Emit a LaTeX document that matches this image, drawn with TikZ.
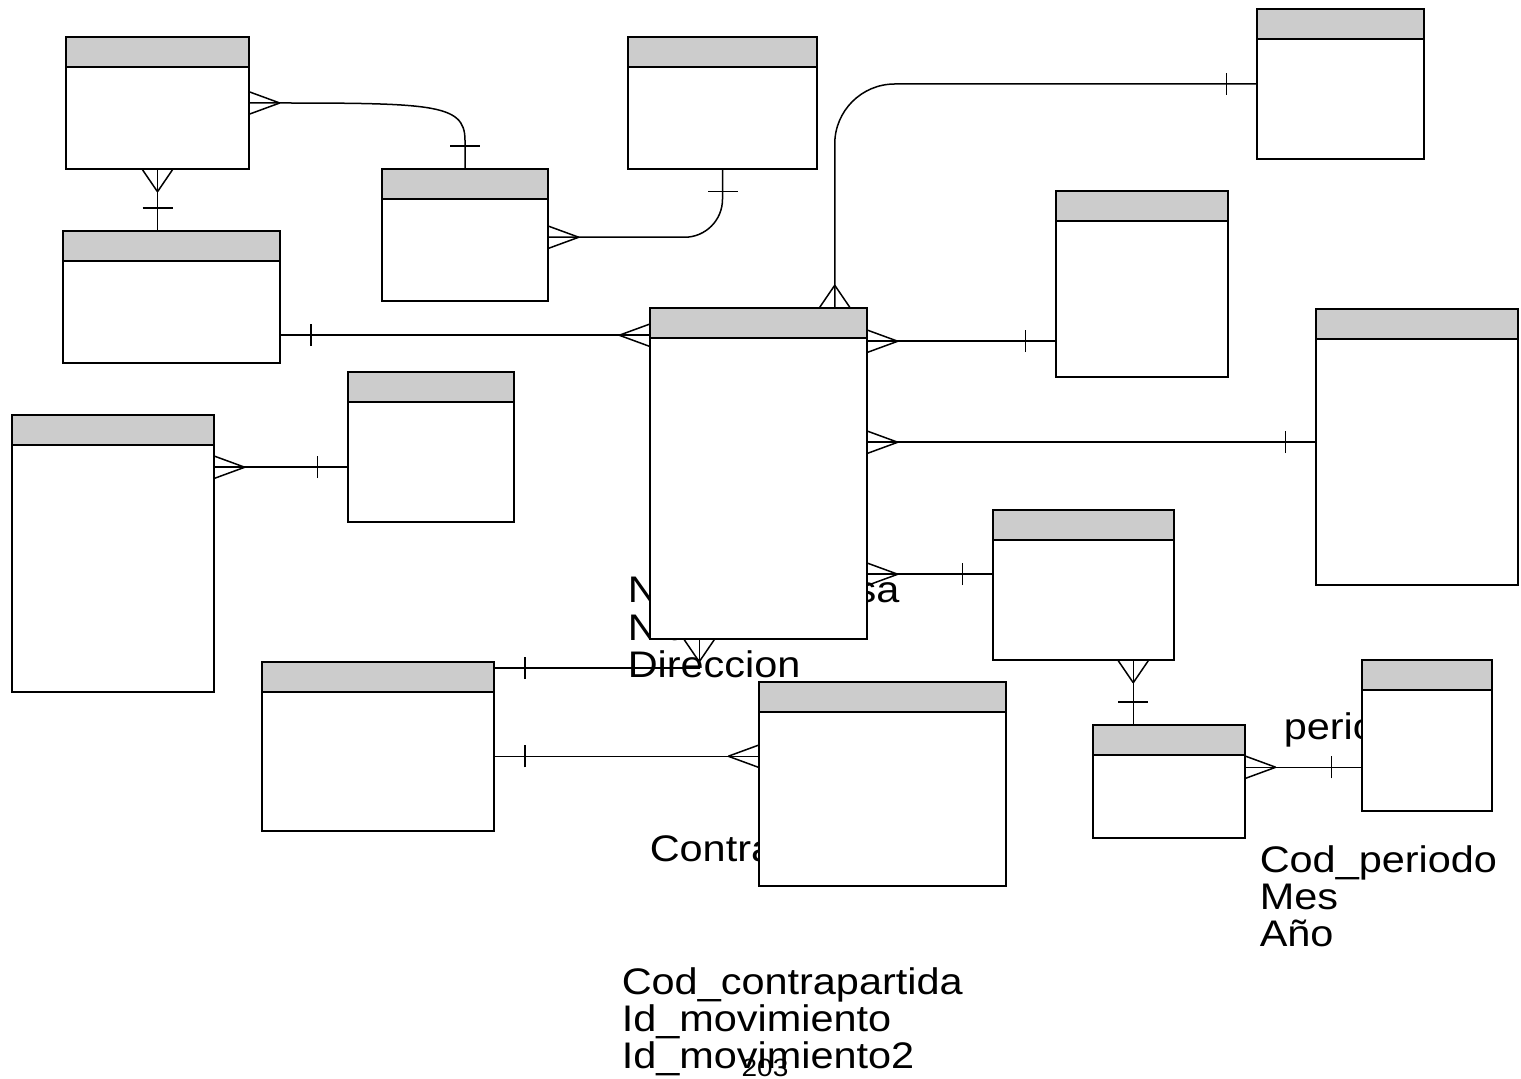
\documentclass[tikz,border=0pt]{standalone}
\usepackage{fontspec}
\setmainfont{Liberation Sans}[FakeStretch=1.12]
\usepackage{tikz}
\usetikzlibrary{calc, decorations.markings}
\definecolor{hdrGray}{HTML}{CCCCCC}

% tabla sin nombre: #1 nombre, #2-#5 esquinas en px
\newcommand{\tabla}[5]{%
  \node[tabla, minimum width={(#4-#2)*0.5pt}, minimum height={(#5-#3)*0.5pt}]
    (#1) at ({(#2+#4)/2},{(#3+#5)/2}) {};}

\begin{document}
\begin{tikzpicture}[x=0.5pt, y=-0.5pt, line width=0.75pt,
  tabla/.style={draw, fill=white, inner sep=0pt,
    path picture={
      \fill[hdrGray] (path picture bounding box.north west) rectangle
        ($(path picture bounding box.north east)+(0,30)$);
      \draw ($(path picture bounding box.north west)+(0,30)$) --
        ($(path picture bounding box.north east)+(0,30)$);}},
  attr/.style={font=\fontsize{18.5}{18.5}\selectfont, align=left,
    anchor=base west, inner sep=0pt},
  pataIni/.style 2 args={postaction={decorate, decoration={markings,
    mark=at position 0 with {\draw (#1,0pt) -- (0pt,#2) (#1,0pt) -- (0pt,-#2);}}}},
  pataFin/.style 2 args={postaction={decorate, decoration={markings,
    mark=at position 1 with {\draw (-#1,0pt) -- (0pt,#2) (-#1,0pt) -- (0pt,-#2);}}}},
  barraIni/.style 2 args={postaction={decorate, decoration={markings,
    mark=at position 0 with {\draw (#1,-#2) -- (#1,#2);}}}},
  barraFin/.style 2 args={postaction={decorate, decoration={markings,
    mark=at position 1 with {\draw (-#1,-#2) -- (-#1,#2);}}}},
]
  \useasboundingbox[fill=white] (0,0) rectangle (1521,1079);

  % Atributos sueltos (quedan tapados en parte); base = ultima linea
  \node[attr] (txEmpresa) at (627,677) {Nom\_empresa\\Nit\\Direccion};
  \node[attr] (txContra) at (649,861) {Contrapartida};
  \node[attr] (txPeriodo) at (1283,740) {periodo};
  \node[attr] (txCodPer) at (1259,946) {Cod\_periodo\\Mes\\Año};
  \node[attr] (txCodCon) at (621,1068) {Cod\_contrapartida\\Id\_movimiento\\Id\_movimiento2};
  \node[font=\fontsize{12.5}{12.5}\selectfont, anchor=base, inner sep=0pt] (pag) at (765,1076) {203};

  % Tablas
  \tabla{t1}{66}{37}{249}{169}
  \tabla{t2}{63}{231}{280}{363}
  \tabla{t3}{382}{169}{548}{301}
  \tabla{t4}{628}{37}{817}{169}
  \tabla{t5}{1257}{9}{1424}{159}
  \tabla{t6}{650}{308}{867}{639}
  \tabla{t7}{1056}{191}{1228}{377}
  \tabla{t8}{1316}{309}{1518}{585}
  \tabla{t9}{12}{415}{214}{692}
  \tabla{t10}{348}{372}{514}{522}
  \tabla{t11}{993}{510}{1174}{660}
  \tabla{t12}{262}{662}{494}{831}
  \tabla{t13}{759}{682}{1006}{886}
  \tabla{t14}{1093}{725}{1245}{838}
  \tabla{t15}{1362}{660}{1492}{811}

  % Puntos de enganche
  \coordinate (k1) at ($(t3.north)+(0,-28)$);
  \coordinate (k3) at ($(t3.north east)+(0,69)$);
  \coordinate (k4) at ($(t6.north east)+(-33,0)$);
  \coordinate (k5) at ($(t2.north east)+(0,105)$);
  \coordinate (k6) at ($(t6.north east)+(0,34)$);
  \coordinate (k7) at ($(t6.north east)+(0,135)$);
  \coordinate (k8) at ($(t6.north east)+(0,267)$);
  \coordinate (k9) at ($(t9.north east)+(0,53)$);
  \coordinate (k10) at ($(t12.north east)+(0,7)$);
  \coordinate (k10b) at ($(t6.south west)+(50,0)$);
  \coordinate (k11) at ($(t12.north east)+(0,95)$);
  \coordinate (k12) at ($(t11.south west)+(141,0)$);
  \coordinate (k13) at ($(t14.north east)+(0,43)$);

  % Relaciones
  \draw[pataIni={15pt}{5.5pt}, barraFin={11pt}{7.5pt}]
    (t1.east) .. controls +(181,0) and +(0,-38) .. (k1) -- (t3.north);
  \draw[pataIni={11pt}{7.5pt}, barraFin={11pt}{7.5pt}]
    (t1.south) -- (t1.south |- t2.north);
  \draw[rounded corners=19pt, pataIni={15pt}{5.5pt}, barraFin={11pt}{7.5pt}]
    (k3) -| (t4.south);
  \draw[rounded corners=30pt, pataIni={11pt}{7.5pt}, barraFin={15pt}{5.5pt}]
    (k4) |- (t5.west);
  \draw[barraIni={15pt}{5.5pt}, pataFin={15pt}{5.5pt}] (k5) -- (k5 -| t6.west);
  \draw[pataIni={15pt}{5.5pt}, barraFin={15pt}{5.5pt}] (k6) -- (k6 -| t7.west);
  \draw[pataIni={15pt}{5.5pt}, barraFin={15pt}{5.5pt}] (k7) -- (k7 -| t8.west);
  \draw[pataIni={15pt}{5.5pt}, barraFin={15pt}{5.5pt}] (k8) -- (k8 -| t11.west);
  \draw[pataIni={15pt}{5.5pt}, barraFin={15pt}{5.5pt}] (k9) -- (k9 -| t10.west);
  \draw[barraIni={15pt}{5.5pt}, pataFin={11pt}{7.5pt}] (k10) -| (k10b);
  \draw[barraIni={15pt}{5.5pt}, pataFin={15pt}{5.5pt}] (k11) -- (k11 -| t13.west);
  \draw[pataIni={11pt}{7.5pt}, barraFin={11pt}{7.5pt}] (k12) -- (k12 |- t14.north);
  \draw[pataIni={15pt}{5.5pt}, barraFin={15pt}{5.5pt}] (k13) -- (k13 -| t15.west);
\end{tikzpicture}
\end{document}
